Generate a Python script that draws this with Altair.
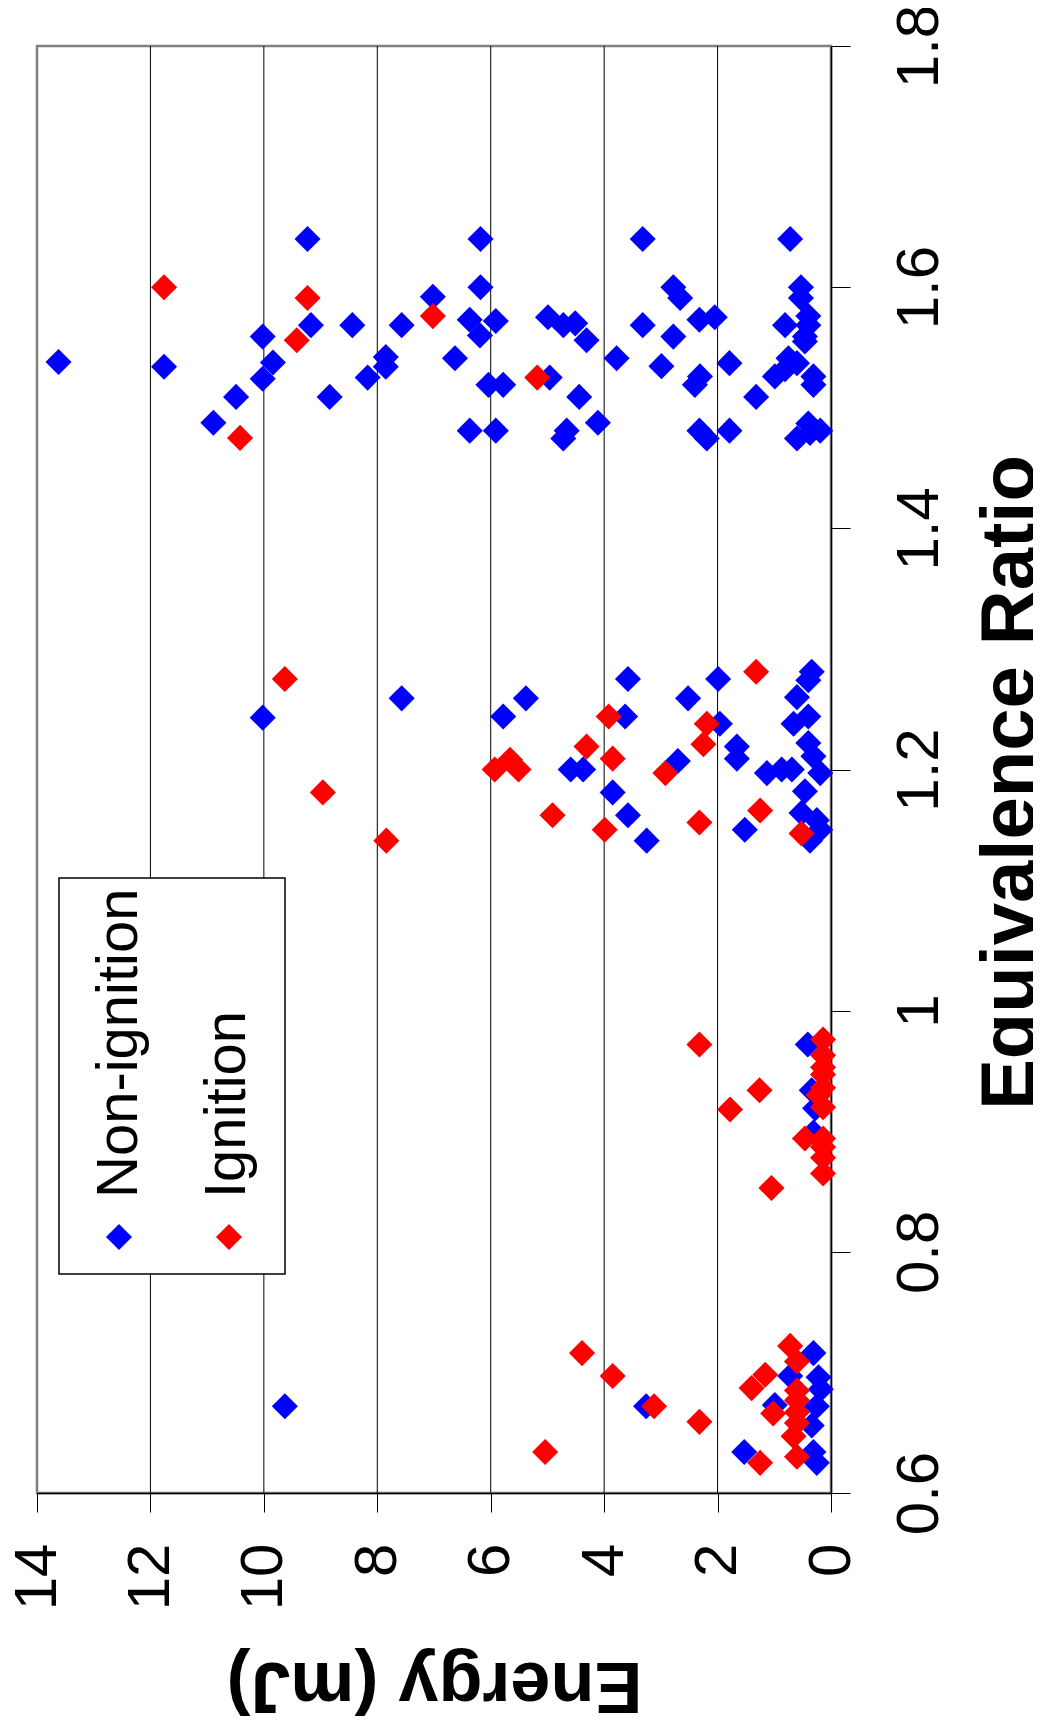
import altair as alt
import pandas as pd

# ---- data ----
non_ignition_energy = [
    9.63, 3.26, 1.53, 0.31, 0.72, 0.22, 0.18, 0.99, 0.25, 0.34, 0.31, 0.25,
    0.41, 0.34, 0.28, 0.31,
    10.02, 7.57, 5.78, 5.38, 4.59, 4.37, 3.58, 3.63, 3.85, 3.58, 3.25, 2.52,
    1.99, 1.96, 2.70, 1.66, 1.66, 1.52, 1.13, 0.87, 0.69, 0.34, 0.40, 0.60,
    0.66, 0.40, 0.40, 0.31, 0.19, 0.46, 0.52, 0.25, 0.19, 0.37,
    13.62, 11.76, 10.89, 10.49, 10.02, 10.02, 9.84, 9.23, 9.17, 8.44, 8.84,
    8.17, 7.85, 7.85, 7.57, 7.02, 6.18, 6.18, 6.37, 6.19, 5.91, 6.63, 6.04,
    5.78, 6.37, 5.91, 4.99, 4.72, 4.51, 4.31, 4.96, 4.44, 4.66, 4.72, 4.11,
    3.78, 3.32, 3.32, 2.78, 2.66, 2.78, 2.99, 2.32, 2.05, 2.31, 2.40, 2.32,
    2.19, 1.79, 1.79, 1.32, 0.72, 0.53, 0.53, 0.81, 0.40, 0.40, 0.46, 0.46,
    0.99, 0.75, 0.60, 0.81, 0.31, 0.31, 0.60, 0.40, 0.19, 0.37,
]
non_ignition_phi = [
    0.672, 0.672, 0.634, 0.716, 0.697, 0.696, 0.686, 0.673, 0.672, 0.656, 0.634, 0.625,
    0.972, 0.934, 0.919, 0.899,
    1.243, 1.259, 1.244, 1.259, 1.200, 1.200, 1.275, 1.244, 1.181, 1.162, 1.141, 1.259,
    1.275, 1.238, 1.207, 1.219, 1.209, 1.150, 1.197, 1.200, 1.200, 1.281, 1.274, 1.260,
    1.238, 1.244, 1.222, 1.211, 1.197, 1.182, 1.164, 1.158, 1.150, 1.141,
    1.538, 1.534, 1.4875, 1.509, 1.559, 1.524, 1.5375, 1.640, 1.5685, 1.5685, 1.509,
    1.525, 1.542, 1.534, 1.5685, 1.592, 1.640, 1.600, 1.573, 1.560, 1.572, 1.541, 1.519,
    1.519, 1.481, 1.481, 1.575, 1.5685, 1.570, 1.556, 1.525, 1.509, 1.481, 1.4745, 1.4875,
    1.541, 1.640, 1.5685, 1.600, 1.591, 1.559, 1.5345, 1.573, 1.575, 1.526, 1.519, 1.481,
    1.4745, 1.481, 1.537, 1.509, 1.640, 1.600, 1.591, 1.5685, 1.576, 1.5685, 1.559, 1.555,
    1.526, 1.541, 1.537, 1.532, 1.526, 1.519, 1.4745, 1.487, 1.481, 1.479,
]

ignition_energy = [
    4.39, 3.85, 3.12, 2.32, 5.04, 1.25, 0.72, 0.60, 1.40, 1.16, 0.60, 0.60,
    1.02, 0.60, 0.60, 0.66, 0.60,
    2.32, 1.26, 1.78, 1.05, 0.14, 0.14, 0.14, 0.14, 0.14, 0.14, 0.22, 0.46,
    0.14, 0.14, 0.14, 0.14,
    9.63, 8.96, 7.84, 5.93, 5.66, 5.51, 4.31, 3.92, 3.85, 4.91, 3.99, 2.19,
    2.25, 2.92, 2.32, 1.32, 1.25, 0.52,
    11.76, 10.42, 9.23, 9.42, 7.02, 5.18,
]
ignition_phi = [
    0.716, 0.697, 0.672, 0.659, 0.634, 0.625, 0.722, 0.709, 0.687, 0.698, 0.685, 0.677,
    0.666, 0.667, 0.658, 0.647, 0.630,
    0.972, 0.934, 0.918, 0.853, 0.976, 0.963, 0.953, 0.947, 0.936, 0.920, 0.930, 0.894,
    0.894, 0.887, 0.878, 0.865,
    1.275, 1.181, 1.141, 1.200, 1.208, 1.200, 1.219, 1.244, 1.209, 1.162, 1.150, 1.238,
    1.221, 1.197, 1.156, 1.281, 1.166, 1.147,
    1.600, 1.475, 1.591, 1.556, 1.576, 1.525,
]

series_names = ["Non-ignition", "Ignition"]
series_colors = ["#0000FF", "#FF0000"]
energy_ticks = [0, 2, 4, 6, 8, 10, 12, 14]
grid_values = [2, 4, 6, 8, 10, 12]
phi_ticks = [0.6, 0.8, 1.0, 1.2, 1.4, 1.6, 1.8]

FONT = "Liberation Sans"
W, H = 794, 1447

df = pd.concat([
    pd.DataFrame({"Energy": non_ignition_energy, "Phi": non_ignition_phi, "Type": series_names[0]}),
    pd.DataFrame({"Energy": ignition_energy, "Phi": ignition_phi, "Type": series_names[1]}),
], ignore_index=True)
df["order"] = range(len(df))

x_scale = alt.Scale(domain=[0, 14], reverse=True, nice=False, zero=False)
y_scale = alt.Scale(domain=[0.6, 1.8], nice=False, zero=False)

x_axis = alt.Axis(
    values=energy_ticks, orient="bottom", grid=False,
    labelAngle=270, labelAlign="right", labelBaseline="middle", labelPadding=31,
    labelFontSize=60, labelFont=FONT, labelColor="black", labelFlush=False, labelOverlap=False,
    tickSize=19, tickColor="black", tickWidth=1,
    domainColor="black", domainWidth=1.5,
    title="Energy (mJ)", titleFont=FONT, titleFontSize=72, titleFontWeight="bold",
    titleColor="black", titleAngle=180, titleBaseline="bottom", titleAlign="center",
    titleX=W / 2, titleY=154,
)
y_axis = alt.Axis(
    values=phi_ticks, orient="right", grid=False, format="~g",
    labelAngle=270, labelAlign="center", labelBaseline="top", labelPadding=40,
    labelFontSize=60, labelFont=FONT, labelColor="black", labelFlush=False, labelOverlap=False,
    tickSize=19, tickColor="black", tickWidth=1,
    domainColor="black", domainWidth=1.5,
    title="Equivalence Ratio", titleFont=FONT, titleFontSize=76, titleFontWeight="bold",
    titleColor="black", titleAngle=270, titleBaseline="top", titleAlign="center",
    titleX=142, titleY=736,
)

grid = alt.Chart(pd.DataFrame({"Energy": grid_values})).mark_rule(
    color="black", strokeWidth=1
).encode(x=alt.X("Energy:Q", scale=x_scale, axis=x_axis))

points = alt.Chart(df).mark_point(
    shape="diamond", filled=True, size=680, opacity=1
).encode(
    x=alt.X("Energy:Q", scale=x_scale, axis=x_axis),
    y=alt.Y("Phi:Q", scale=y_scale, axis=y_axis),
    color=alt.Color("Type:N", scale=alt.Scale(domain=series_names, range=series_colors), legend=None),
    order=alt.Order("order:Q"),
)

one = pd.DataFrame({"a": [0]})
legend_box = alt.Chart(one).mark_rect(
    fill="white", stroke="black", strokeWidth=1.5
).encode(x=alt.value(22), x2=alt.value(248), y=alt.value(832), y2=alt.value(1228))

legend_sym_nonign = alt.Chart(one).mark_point(
    shape="diamond", filled=True, size=680, opacity=1, color=series_colors[0]
).encode(x=alt.value(82), y=alt.value(1191))
legend_sym_ign = alt.Chart(one).mark_point(
    shape="diamond", filled=True, size=680, opacity=1, color=series_colors[1]
).encode(x=alt.value(192), y=alt.value(1191))

legend_txt_nonign = alt.Chart(one).mark_text(
    text=series_names[0], angle=270, align="left", baseline="alphabetic",
    font=FONT, fontSize=58, color="black"
).encode(x=alt.value(100), y=alt.value(1152))
legend_txt_ign = alt.Chart(one).mark_text(
    text=series_names[1], angle=270, align="left", baseline="alphabetic",
    font=FONT, fontSize=58, color="black"
).encode(x=alt.value(208), y=alt.value(1152))

chart = alt.layer(
    grid, points, legend_box, legend_sym_nonign, legend_sym_ign, legend_txt_nonign, legend_txt_ign
).properties(
    width=W, height=H,
    autosize=alt.AutoSizeParams(type="none"),
    padding={"left": 29, "top": 38, "right": 202, "bottom": 226},
).configure(font=FONT).configure_view(stroke="#808080", strokeWidth=2.5)

chart.save("out.html", embed_options={"renderer": "svg", "actions": False})
